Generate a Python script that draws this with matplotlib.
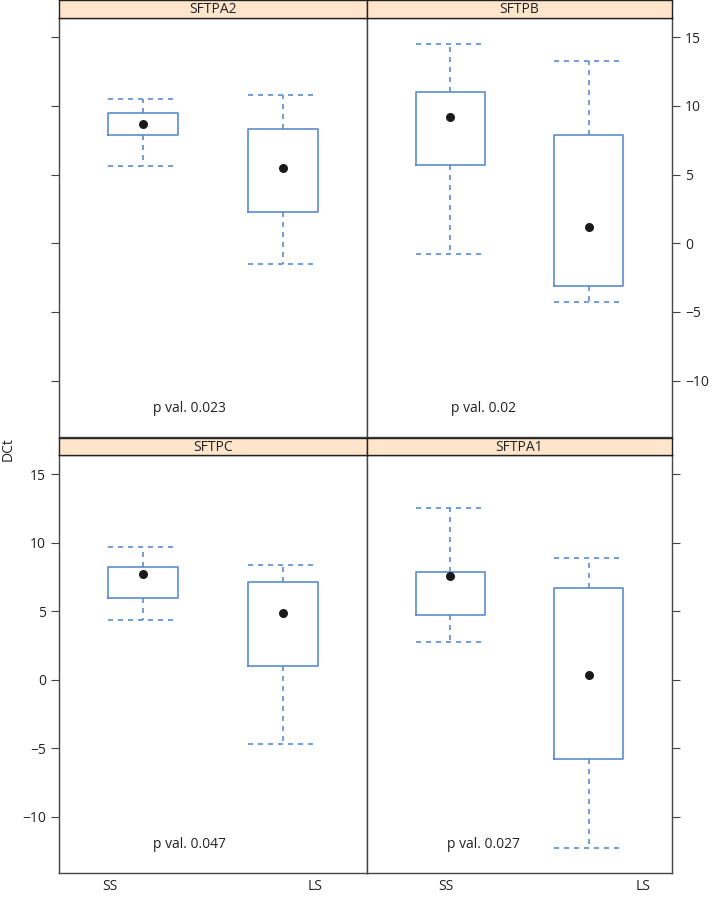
import matplotlib
matplotlib.use("Agg")
import matplotlib.pyplot as plt

plt.rcParams["font.family"] = ["Open Sans", "DejaVu Sans"]

GENES = ["SFTPA2", "SFTPB", "SFTPC", "SFTPA1"]
GROUPS = ["SS", "LS"]
P_VALS = ["p val. 0.023", "p val. 0.02", "p val. 0.047", "p val. 0.027"]

# per gene: [SS, LS] -> (low whisker, q1, median, q3, high whisker)
LOW = {"SFTPA2": [5.6, -1.5], "SFTPB": [-0.8, -4.3], "SFTPC": [4.35, -4.7], "SFTPA1": [2.75, -12.3]}
Q1 = {"SFTPA2": [7.9, 2.3], "SFTPB": [5.7, -3.1], "SFTPC": [6.0, 1.0], "SFTPA1": [4.7, -5.8]}
MED = {"SFTPA2": [8.7, 5.45], "SFTPB": [9.2, 1.2], "SFTPC": [7.7, 4.9], "SFTPA1": [7.55, 0.35]}
Q3 = {"SFTPA2": [9.5, 8.3], "SFTPB": [11.0, 7.85], "SFTPC": [8.2, 7.1], "SFTPA1": [7.85, 6.7]}
HIGH = {"SFTPA2": [10.5, 10.8], "SFTPB": [14.5, 13.3], "SFTPC": [9.7, 8.4], "SFTPA1": [12.5, 8.85]}

YTICKS = [-10, -5, 0, 5, 10, 15]

BLUE = "#5b8bd0"
STRIP = "#ffe5cc"
EDGE = "#444444"

W, H = 714, 899
fig = plt.figure(figsize=(W / 100, H / 100), dpi=100)


def fx(px):
    return px / W


def fy(py):
    return 1 - py / H


# panel boxes in pixels: (left, right, top, bottom)
cols = [(59, 367), (367, 672)]
rows = [(18, 437, 0), (455, 873, 438)]
layout = {"SFTPA2": (0, 0), "SFTPB": (0, 1), "SFTPC": (1, 0), "SFTPA1": (1, 1)}
ptext_x = {"SFTPA2": 1.33, "SFTPB": 1.24, "SFTPC": 1.33, "SFTPA1": 1.24}
label_x = {0: [0.764, 2.23], 1: [0.97, 2.39]}

for gene, pv in zip(GENES, P_VALS):
    r, c = layout[gene]
    l, rr = cols[c]
    t, b, st = rows[r]
    ax = fig.add_axes([fx(l), fy(b), fx(rr - l), fy(t) - fy(b)])
    sax = fig.add_axes([fx(l), fy(t), fx(rr - l), fy(st) - fy(t)])

    stats = []
    for i, g in enumerate(GROUPS):
        stats.append({"whislo": LOW[gene][i], "q1": Q1[gene][i], "med": MED[gene][i],
                      "q3": Q3[gene][i], "whishi": HIGH[gene][i], "fliers": [], "label": g})
    ax.bxp(stats, positions=[1, 2], widths=0.5, showfliers=False, patch_artist=False,
           boxprops=dict(color=BLUE, lw=1.2),
           whiskerprops=dict(color=BLUE, lw=1.2, ls=(0, (3, 3))),
           capprops=dict(color=BLUE, lw=1.2, ls=(0, (3, 3))),
           medianprops=dict(lw=0), capwidths=0.5)
    ax.scatter([1, 2], MED[gene], s=30, color="#1a1a1a", zorder=5)
    ax.text(ptext_x[gene], -12, pv, ha="center", va="center", fontsize=10, color="#222222")

    ax.set_xlim(0.4, 2.6)
    ax.set_ylim(-14.1, 16.4)
    ax.set_yticks(YTICKS)
    for sp in ax.spines.values():
        sp.set_color(EDGE)
        sp.set_linewidth(1.0)

    if r == 1:
        ax.set_xticks(label_x[c])
        ax.set_xticklabels(GROUPS)
        ax.tick_params(axis="x", length=0, pad=4, labelsize=10, labelcolor="#222222")
    else:
        ax.set_xticks([])

    side_left = (c == 0)
    with_labels = (r == 1 and c == 0) or (r == 0 and c == 1)
    ax.tick_params(axis="y", direction="out", length=6, color=EDGE, labelsize=10,
                   labelcolor="#222222",
                   left=side_left, labelleft=side_left and with_labels,
                   right=not side_left, labelright=(not side_left) and with_labels)

    sax.set_facecolor(STRIP)
    sax.set_xticks([])
    sax.set_yticks([])
    for sp in sax.spines.values():
        sp.set_color("#222222")
        sp.set_linewidth(1.0)
    sax.text(0.5, 0.45, gene, ha="center", va="center", fontsize=10,
             color="#222222", transform=sax.transAxes)

fig.text(fx(8), fy(449), "DCt", rotation=90, ha="center", va="center",
         fontsize=10, color="#222222")

fig.savefig("out.png", dpi=100)
